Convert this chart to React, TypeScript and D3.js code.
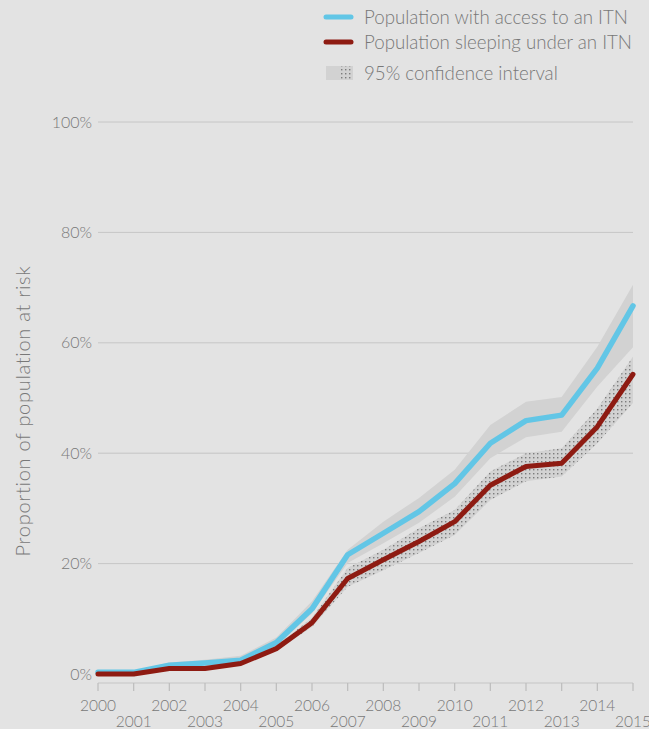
import React from "react";
import * as d3 from "d3";

const years = [2000, 2001, 2002, 2003, 2004, 2005, 2006, 2007, 2008, 2009, 2010, 2011, 2012, 2013, 2014, 2015];
const accessMid = [0.3, 0.3, 1.6, 2.0, 2.5, 5.7, 11.8, 21.6, 25.5, 29.4, 34.5, 41.8, 45.9, 46.9, 55.4, 66.7];
const accessLow = [0.0, 0.0, 1.2, 1.6, 2.0, 5.0, 11.0, 20.1, 23.7, 27.4, 32.1, 39.1, 42.9, 43.9, 52.1, 59.2];
const accessHigh = [0.6, 0.6, 2.1, 2.6, 3.3, 6.6, 13.2, 22.5, 27.6, 31.9, 37.0, 45.1, 49.3, 50.2, 59.3, 70.5];
const usedMid = [0.0, 0.0, 1.0, 1.0, 1.9, 4.6, 9.3, 17.3, 20.7, 24.0, 27.6, 34.2, 37.6, 38.2, 44.8, 54.3];
const usedLow = [0.0, 0.0, 0.8, 0.8, 1.6, 4.2, 8.5, 15.8, 18.8, 21.9, 25.2, 31.5, 34.9, 35.8, 41.8, 49.1];
const usedHigh = [0.2, 0.2, 1.2, 1.3, 2.3, 5.1, 10.2, 19.2, 22.5, 26.4, 29.7, 36.7, 40.0, 40.9, 48.1, 57.5];
const yTicks = [0, 20, 40, 60, 80, 100];
const legendLabels = ["Population with access to an ITN", "Population sleeping under an ITN", "95% confidence interval"];
const yTitle = "Proportion of population at risk";

const W = 649;
const H = 729;
const FONT = "Lato, 'Open Sans', sans-serif";
const TXT = "#787878";
const BLUE = "#62c6e6";
const RED = "#8e1b12";
const CI = "#d2d2d2";

export default function App() {
  const x = d3.scaleLinear().domain([2000, 2015]).range([98, 633]);
  const y = d3.scaleLinear().domain([0, 100]).range([674, 122]);

  const line = (vals: number[]) =>
    d3.line<number>().x((_, i) => x(years[i])).y((v) => y(v))(vals) || "";
  const area = (lo: number[], hi: number[]) =>
    d3
      .area<number>()
      .x((_, i) => x(years[i]))
      .y0((_, i) => y(lo[i]))
      .y1((_, i) => y(hi[i]))(years) || "";

  return (
    <svg
      width={W}
      height={H}
      style={{ position: "fixed", left: 0, top: 0, background: "#e3e3e3" }}
      fontFamily={FONT}
    >
      <defs>
        <pattern id="dots" width="4" height="4" patternUnits="userSpaceOnUse">
          <rect width="4" height="4" fill={CI} />
          <rect x="1" y="1" width="1.4" height="1.4" fill="#7c7c7c" />
        </pattern>
      </defs>
      <rect width={W} height={H} fill="#e3e3e3" />

      {/* gridlines */}
      {yTicks.map((t) => (
        <g key={t}>
          {t > 0 && (
            <line x1={98} x2={633} y1={y(t)} y2={y(t)} stroke="#c6c6c6" strokeWidth={1} />
          )}
          <text
            x={92}
            y={y(t)}
            dy="0.35em"
            textAnchor="end"
            fontSize={16}
            fill={TXT}
            fontWeight={300}
          >
            {t}%
          </text>
        </g>
      ))}

      {/* x axis */}
      <line x1={98} x2={633} y1={683} y2={683} stroke="#c6c6c6" strokeWidth={1.2} />
      {years.map((yr, i) => (
        <g key={yr}>
          <line x1={x(yr)} x2={x(yr)} y1={683} y2={691} stroke="#bdbdbd" strokeWidth={1.2} />
          <text
            x={x(yr)}
            y={i % 2 === 0 ? 711 : 727}
            textAnchor="middle"
            fontSize={15.5}
            fill={TXT}
            fontWeight={300}
          >
            {yr}
          </text>
        </g>
      ))}

      {/* y title */}
      <text
        transform={`translate(30, 411) rotate(-90)`}
        textAnchor="middle"
        fontSize={20}
        letterSpacing={0.7}
        fill={TXT}
        fontWeight={300}
      >
        {yTitle}
      </text>

      {/* CI bands */}
      <path d={area(accessLow, accessHigh)} fill={CI} />
      <path d={area(usedLow, usedHigh)} fill="url(#dots)" />

      {/* lines */}
      <path d={line(accessMid)} fill="none" stroke={BLUE} strokeWidth={5.5} strokeLinejoin="round" strokeLinecap="round" />
      <path d={line(usedMid)} fill="none" stroke={RED} strokeWidth={5} strokeLinejoin="round" strokeLinecap="round" />

      {/* legend */}
      <line x1={326} x2={351} y1={17} y2={17} stroke={BLUE} strokeWidth={5} strokeLinecap="round" />
      <text x={364} y={24} fontSize={18.7} fill={TXT} fontWeight={300}>
        {legendLabels[0]}
      </text>
      <line x1={326} x2={351} y1={42} y2={42} stroke={RED} strokeWidth={5} strokeLinecap="round" />
      <text x={364} y={49} fontSize={18.7} fill={TXT} fontWeight={300}>
        {legendLabels[1]}
      </text>
      <rect x={326} y={66} width={13} height={14} fill={CI} />
      <rect x={339} y={66} width={14} height={14} fill="url(#dots)" />
      <text x={364} y={80} fontSize={18.7} fill={TXT} fontWeight={300}>
        {legendLabels[2]}
      </text>
    </svg>
  );
}
